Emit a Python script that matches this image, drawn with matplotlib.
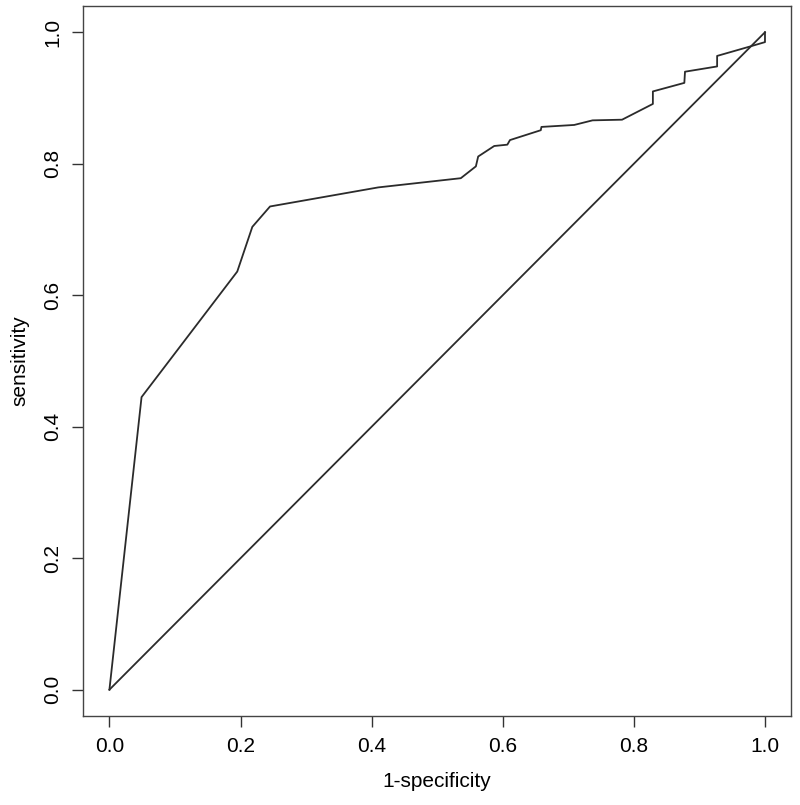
import matplotlib
matplotlib.use('Agg')
import matplotlib.pyplot as plt

# ROC curve points
fpr = [0.0, 0.049, 0.195, 0.218, 0.245, 0.41, 0.536, 0.559, 0.5625, 0.587,
       0.607, 0.611, 0.658, 0.659, 0.709, 0.737, 0.782, 0.829, 0.829,
       0.877, 0.878, 0.927, 0.927, 0.976, 1.0, 1.0]
tpr = [0.0, 0.445, 0.636, 0.704, 0.735, 0.764, 0.778, 0.796, 0.811, 0.827,
       0.829, 0.836, 0.851, 0.856, 0.859, 0.866, 0.867, 0.891, 0.910,
       0.923, 0.940, 0.948, 0.964, 0.978, 0.985, 1.0]
diag = [0.0, 1.0]
ticks = [0.0, 0.2, 0.4, 0.6, 0.8, 1.0]

plt.rcParams['font.family'] = ['Liberation Sans', 'DejaVu Sans']

fig = plt.figure(figsize=(8, 8.05), dpi=100)
ax = fig.add_axes([0.104, 0.1106, 0.885, 0.882])

line_col = '#2b2b2b'
ax.plot(fpr, tpr, color=line_col, lw=1.3)
ax.plot(diag, diag, color=line_col, lw=1.3)

ax.set_xlim(-0.04, 1.04)
ax.set_ylim(-0.04, 1.04)
ax.set_xticks(ticks)
ax.set_yticks(ticks)
ax.set_xticklabels([f"{t:.1f}" for t in ticks])
ax.set_yticklabels([f"{t:.1f}" for t in ticks], rotation=90, va='center')
ax.tick_params(direction='out', length=8, width=1, colors='#333333',
               labelsize=15, labelcolor='black', pad=7)
for s in ax.spines.values():
    s.set_color('#444444')
    s.set_linewidth(1)

ax.set_xlabel('1-specificity', fontsize=15, labelpad=12)
ax.set_ylabel('sensitivity', fontsize=15, labelpad=10)

fig.savefig('out.png', dpi=100)
